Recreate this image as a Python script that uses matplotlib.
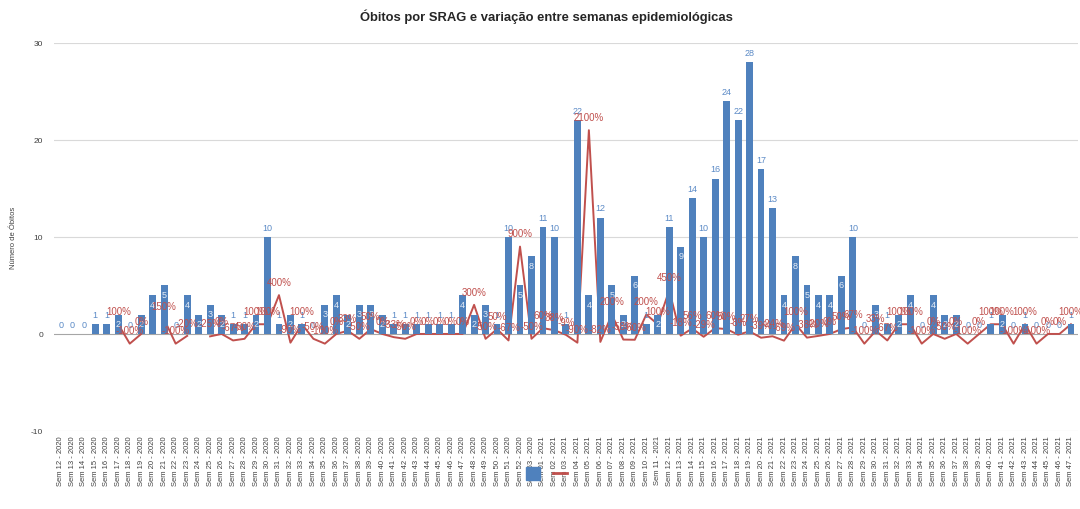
import numpy as np
import matplotlib.pyplot as plt
from matplotlib.patches import Patch
from matplotlib.lines import Line2D

plt.rcParams['font.family'] = ['Liberation Sans', 'DejaVu Sans']
plt.rcParams['axes.unicode_minus'] = False

# semanas epidemiologicas 12/2020 ate 47/2021
semanas = ["Sem %02d - 2020" % s for s in range(12, 54)] + \
          ["Sem %02d - 2021" % s for s in range(1, 48)]

obitos = [0, 0, 0, 1, 1, 2, 0, 2, 4, 5, 0, 4, 2, 3, 2, 1, 1, 2, 10, 1,
          2, 1, 0, 3, 4, 2, 3, 3, 2, 1, 1, 1, 1, 1, 1, 4, 2, 3, 1, 10,
          5, 8, 11, 10, 1, 22, 4, 12, 5, 2, 6, 1, 2, 11, 9, 14, 10, 16, 24, 22,
          28, 17, 13, 4, 8, 5, 4, 4, 6, 10, 0, 3, 1, 2, 4, 0, 4, 2, 2, 0,
          0, 1, 2, 0, 1, 0, 0, 0, 1]

# variacao em % (None = sem valor)
variacao = [None, None, None, None, None, 100, -100, 0, None, 150,
            -100, -20, None, -25, 0, -67, -50, 100, 100, 400,
            -90, 100, -50, -100, 0, 33, -50, 50, 0, -33,
            -50, 0, 0, 0, 0, 0, 300, -50, 50, -67,
            900, -50, 60, 38, -9, -90, 2100, -82, 200, -58,
            -60, 200, 100, 450, -18, 56, -29, 60, 50, -8,
            27, -39, -24, -69, 100, -38, -20, 0, 50, 67,
            -100, 33, -67, 100, 100, -100, 0, -50, 0, -100,
            0, 100, 100, -100, 100, -100, 0, 0, 100]

azul = '#4F81BD'
vermelho = '#C0504D'

fig, ax = plt.subplots(figsize=(10.8, 5.1), dpi=100)
fig.subplots_adjust(left=0.05, right=0.998, bottom=0.153, top=0.914)

x = np.arange(len(semanas))
var = np.array([np.nan if v is None else v for v in variacao], dtype=float)

ax.plot(x, var / 100, color=vermelho, lw=1.4, zorder=2)
ax.bar(x, obitos, width=0.6, color=azul, zorder=3)

# rotulos das barras
for xi, v in zip(x, obitos):
    if 2 <= v < 10:
        ax.annotate(str(v), (xi, v), xytext=(0, -6.5), textcoords='offset points',
                    ha='center', va='center', fontsize=6.5, color='#e8eef7', zorder=5)
    else:
        ax.annotate(str(v), (xi, v), xytext=(0, 7), textcoords='offset points',
                    ha='center', va='center', fontsize=6.5, color='#5b8ac6', zorder=5)

# rotulos da linha
for xi, v in zip(x, var):
    if np.isnan(v):
        continue
    ax.annotate("%d%%" % v, (xi, v / 100), xytext=(0, 9.5), textcoords='offset points',
                ha='center', va='center', fontsize=7, color=vermelho, zorder=6)

ax.set_ylim(-10, 30)
ax.set_xlim(-0.6, len(semanas) - 0.4)
ax.set_yticks([-10, 0, 10, 20, 30])
ax.tick_params(axis='y', length=0, labelsize=6, labelcolor='#404040', pad=8)
ax.set_xticks(x)
ax.set_xticklabels(semanas, rotation=90, fontsize=5.5, color='#404040')
ax.tick_params(axis='x', length=0, pad=3)
for s in ax.spines.values():
    s.set_visible(False)
for yv in [-10, 10, 20, 30]:
    ax.axhline(yv, color='#d9d9d9', lw=0.8, zorder=0)
ax.axhline(0, color='#a6a6a6', lw=0.8, zorder=1)

ax.set_ylabel('Número de Óbitos', fontsize=5.5, color='#404040', labelpad=10)

fig.text(0.506, 0.968, 'Óbitos por SRAG e variação entre semanas epidemiológicas',
         ha='center', va='center', fontsize=9.4, fontweight='bold', color='#262626')

handles = [Patch(color=azul), Line2D([0], [0], color=vermelho, lw=2)]
fig.legend(handles, ['', ''], loc='center', bbox_to_anchor=(0.506, 0.068), ncol=2,
           frameon=False, handlelength=1.0, handleheight=1.0, handletextpad=0.0,
           columnspacing=1.0)

fig.savefig('out.png', dpi=100)
